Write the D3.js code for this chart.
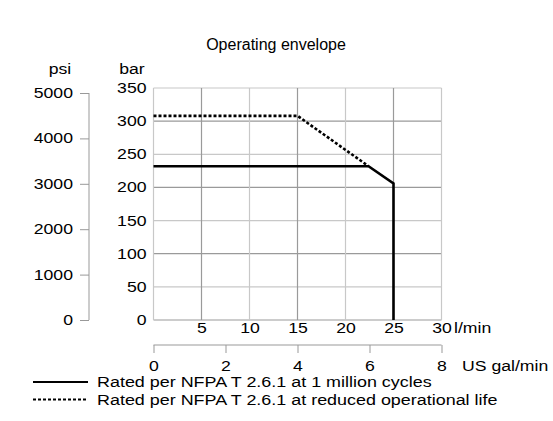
<!DOCTYPE html>
<html>
<head>
<meta charset="utf-8">
<script src="https://cdn.jsdelivr.net/npm/d3@7"></script>
<style>
  html, body { margin: 0; padding: 0; background: #fff; }
  svg { display: block; font-family: "Liberation Sans", Arial, Helvetica, sans-serif; }
</style>
</head>
<body>
<svg id="chart" width="553" height="421"></svg>
<script>
// ---- data ----
const title = "Operating envelope";
const flowTicksLpm = [5, 10, 15, 20, 25, 30];
const barTicks = [0, 50, 100, 150, 200, 250, 300, 350];
const psiTicks = [0, 1000, 2000, 3000, 4000, 5000];
const galTicks = [0, 2, 4, 6, 8];
// rated at 1 million cycles (solid)
const ratedFlow = [0, 22.4, 25, 25];
const ratedBar = [232, 232, 206, 0];
// reduced operational life (dashed)
const reducedFlow = [0, 15, 22.4];
const reducedBar = [308, 308, 232];
const legendLabels = [
  "Rated per NFPA T 2.6.1 at 1 million cycles",
  "Rated per NFPA T 2.6.1 at reduced operational life"
];

// ---- layout ----
const svg = d3.select("#chart");
const X0 = 153.5, X1 = 441.5, Y0 = 320, Y1 = 88;
const x = d3.scaleLinear().domain([0, 30]).range([X0, X1]);
const y = d3.scaleLinear().domain([0, 350]).range([Y0, Y1]);
const psi = d3.scaleLinear().domain([0, 5000]).range([Y0, 93]);
const gal = d3.scaleLinear().domain([0, 8]).range([X0, X1]);
const fs = 14;
const SX = 1.26;

function stretch(sel, k) {
  sel.each(function () {
    const len = this.getComputedTextLength();
    d3.select(this).attr("textLength", len * k).attr("lengthAdjust", "spacingAndGlyphs");
  });
}
function styleText(sel) {
  sel.attr("font-size", fs).attr("fill", "#000").attr("font-family", null);
}

svg.append("text").attr("x", 276).attr("y", 50).attr("text-anchor", "middle")
  .attr("font-size", 16).attr("fill", "#000").text(title);

// grid
const grid = svg.append("g");
barTicks.forEach((v, i) => {
  grid.append("line").attr("x1", X0).attr("x2", X1).attr("y1", y(v)).attr("y2", y(v))
    .attr("stroke", i % 2 === 0 ? "#9a9a9a" : "#c8c8c8").attr("stroke-width", 1.2);
});
[0].concat(flowTicksLpm).forEach((v, i) => {
  grid.append("line").attr("x1", x(v)).attr("x2", x(v)).attr("y1", Y1).attr("y2", Y0)
    .attr("stroke", i % 2 === 1 ? "#9a9a9a" : "#c8c8c8").attr("stroke-width", 1.2);
});

// bar labels (no tick marks)
const barAxis = d3.axisLeft(y).tickValues(barTicks).tickSize(0).tickPadding(7);
const gBar = svg.append("g").attr("transform", `translate(${X0},0)`).call(barAxis);
gBar.select(".domain").remove();
styleText(gBar.selectAll("text"));
stretch(gBar.selectAll("text"), SX);

// psi axis
const psiAxis = d3.axisLeft(psi).tickValues(psiTicks).tickFormat(d3.format("d")).tickSize(9).tickPadding(7);
const gPsi = svg.append("g").attr("transform", "translate(89,0)").call(psiAxis);
gPsi.select(".domain").attr("stroke", "#999").attr("d", `M0,${psi(5000)}V${psi(0)}`);
gPsi.selectAll(".tick line").attr("stroke", "#999");
styleText(gPsi.selectAll("text"));
stretch(gPsi.selectAll("text"), SX);

const unitPsi = svg.append("text").attr("x", 60).attr("y", 74).attr("text-anchor", "middle").text("psi");
const unitBar = svg.append("text").attr("x", 132).attr("y", 74).attr("text-anchor", "middle").text("bar");
[unitPsi, unitBar].forEach(t => { styleText(t); stretch(t, SX); });

// flow axis labels
const xAxis = d3.axisBottom(x).tickValues(flowTicksLpm).tickSize(0).tickPadding(3);
const gX = svg.append("g").attr("transform", `translate(0,${Y0})`).call(xAxis);
gX.select(".domain").remove();
styleText(gX.selectAll("text"));
stretch(gX.selectAll("text"), SX);
const unitL = svg.append("text").attr("x", 454).attr("y", 333).text("l/min");
styleText(unitL); stretch(unitL, SX);

// gal axis
const galY = 345;
const galAxis = d3.axisBottom(gal).tickValues(galTicks).tickSize(8).tickPadding(8);
const gGal = svg.append("g").attr("transform", `translate(0,${galY})`).call(galAxis);
gGal.select(".domain").attr("stroke", "#999").attr("d", `M${gal(0)},0H${gal(8)}`);
gGal.selectAll(".tick line").attr("stroke", "#999").attr("y1", 0).attr("y2", 8);
styleText(gGal.selectAll("text"));
stretch(gGal.selectAll("text"), SX);
const unitG = svg.append("text").attr("x", 462).attr("y", 371).text("US gal/min");
styleText(unitG); stretch(unitG, SX);

// lines
const line = d3.line().x(d => x(d[0])).y(d => y(d[1]));
svg.append("path").datum(d3.zip(ratedFlow, ratedBar)).attr("d", line)
  .attr("fill", "none").attr("stroke", "#000").attr("stroke-width", 2.6);
svg.append("path").datum(d3.zip(reducedFlow, reducedBar)).attr("d", line)
  .attr("fill", "none").attr("stroke", "#000").attr("stroke-width", 2.6).attr("stroke-dasharray", "3,2");

// legend
const lg = svg.append("g");
legendLabels.forEach((t, i) => {
  const ly = 382 + i * 17.5;
  lg.append("line").attr("x1", 33).attr("x2", 88).attr("y1", ly).attr("y2", ly)
    .attr("stroke", "#000").attr("stroke-width", 2)
    .attr("stroke-dasharray", i === 1 ? "3,2" : null);
  const tx = lg.append("text").attr("x", 97).attr("y", ly + 5).text(t);
  styleText(tx); stretch(tx, 1.28);
});
</script>
</body>
</html>
